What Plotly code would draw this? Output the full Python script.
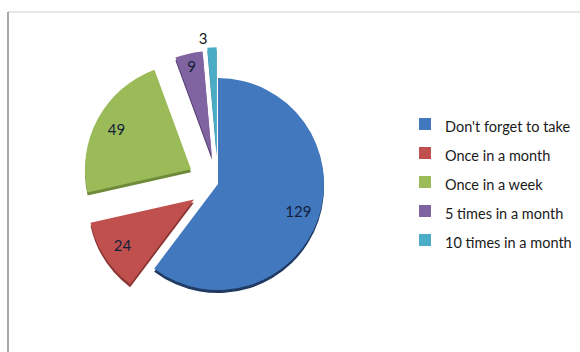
import plotly.graph_objects as go

# Reminder frequency survey
categories = ["Don't forget to take", "Once in a month", "Once in a week",
              "5 times in a month", "10 times in a month"]
counts = [129, 24, 49, 9, 3]
colors = ["#4178BE", "#C0504D", "#9BBB59", "#8064A2", "#4BACC6"]
side_colors = ["#203a63", "#8a3533", "#6f8a3a", "#553f72", "#2f7f93"]
pulls = [0, 0.27, 0.29, 0.26, 0.29]
label_positions = ["inside", "inside", "inside", "inside", "outside"]

# legend rows keep a taller line box while the text itself stays smaller
legend_labels = [f'<span style="font-size:14.5px">{c}</span>' for c in categories]

W, H = 580, 352
# pie box: centre (218, 184) px, radius 106 px plus room for the largest pull
cx, cy, rad = 218, 184, 106
depth = 3  # thickness of the slice sides, px
half = rad * (1 + max(pulls))


def box(dy=0):
    return dict(x=[(cx - half) / W, (cx + half) / W],
                y=[1 - (cy + dy + half) / H, 1 - (cy + dy - half) / H])


common = dict(
    labels=legend_labels,
    values=counts,
    sort=False,
    direction="clockwise",
    rotation=0,
    pull=pulls,
)

fig = go.Figure()

# darker copy just below gives the slices a little thickness
fig.add_trace(go.Pie(
    **common,
    domain=box(depth),
    marker=dict(colors=side_colors, line=dict(width=0)),
    textinfo="none",
    showlegend=False,
    hoverinfo="skip",
))

# the slice tops
fig.add_trace(go.Pie(
    **common,
    domain=box(),
    marker=dict(colors=colors, line=dict(width=0)),
    textinfo="none",
    hoverinfo="label+value",
))

# value labels on a transparent ring so they sit toward the outer edge
fig.add_trace(go.Pie(
    **common,
    domain=box(),
    hole=0.6,
    marker=dict(colors=["rgba(0,0,0,0)"] * len(counts), line=dict(width=0)),
    textinfo="value",
    texttemplate="%{value}",
    textposition=label_positions,
    insidetextorientation="horizontal",
    textfont=dict(family="Lato", size=15, color="#14203a"),
    outsidetextfont=dict(family="Lato", size=15, color="#1a1a1a"),
    showlegend=False,
    hoverinfo="skip",
))

fig.update_layout(
    width=W,
    height=H,
    margin=dict(l=0, r=0, t=0, b=0, autoexpand=False),
    paper_bgcolor="white",
    plot_bgcolor="white",
    font=dict(family="Lato", color="#1a1a1a"),
    uniformtext=dict(minsize=15, mode="show"),
    showlegend=True,
    legend=dict(
        x=405 / W,
        xanchor="left",
        y=1 - 182 / H,
        yanchor="middle",
        font=dict(family="Lato", size=20, color="#1a1a1a"),
        bgcolor="rgba(0,0,0,0)",
        itemclick=False,
        itemdoubleclick=False,
    ),
    shapes=[
        # chart-area frame: light top edge, darker left edge
        dict(type="line", xref="paper", yref="paper",
             x0=8 / W, x1=1, y0=1 - 12 / H, y1=1 - 12 / H,
             line=dict(color="#cfcfcf", width=1)),
        dict(type="line", xref="paper", yref="paper",
             x0=8 / W, x1=8 / W, y0=0, y1=1 - 12 / H,
             line=dict(color="#8a8a8a", width=1.5)),
    ],
)

fig.write_html("out.html")
